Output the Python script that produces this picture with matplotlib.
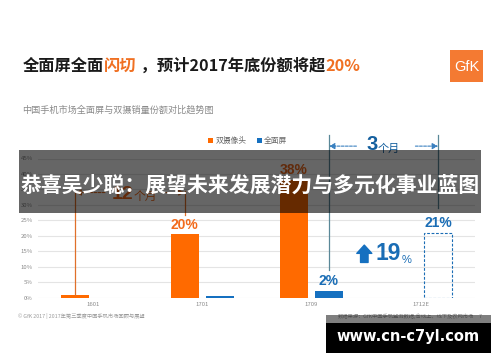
import numpy as np
import matplotlib.pyplot as plt
from matplotlib.patches import Rectangle

categories = ['1601', '1701', '1709', '1712E']
dual_camera = [0.8, 20.5, 38.0, 0.0]
full_screen = [0.0, 0.5, 2.2, 0.0]
full_screen_forecast = [np.nan, np.nan, np.nan, 21.0]
dual_labels = ['', '20%', '38%', '']
full_labels = ['', '', '2%', '21%']
yticks = [0, 5, 10, 15, 20, 25, 30, 35, 40, 45]

ORANGE = '#ff6a00'
ORANGE_TXT = '#f26b1d'
BLUE = '#1570c0'
BLUE_TXT = '#1a6db5'
DARK_BLUE = '#15609f'
GRAY = '#8a8a8a'

plt.rcParams['font.family'] = ['Noto Sans CJK SC', 'DejaVu Sans']
NUM_FONT = ['Liberation Sans', 'DejaVu Sans']

W, H = 500, 362


def fx(x):
    return x / W


def fy(y):
    return 1 - y / H


fig = plt.figure(figsize=(5, 3.62), dpi=100)
ax = fig.add_axes([38.3 / W, 1 - 297.7 / H, 437 / W, 139.2 / H])

x = np.arange(len(categories))
off, bw = 0.16, 0.256
ax.bar(x - off, dual_camera, bw, color=ORANGE, label='双摄像头', zorder=3)
ax.bar(x + off, full_screen, bw, color=BLUE, label='全面屏', zorder=3)
ax.bar(x + off, full_screen_forecast, bw, fill=False, edgecolor=BLUE_TXT,
       ls=(0, (2.5, 1.5)), lw=0.8, zorder=3)

full_tops = np.nan_to_num(full_screen_forecast) + np.array(full_screen)
for i in range(len(categories)):
    if dual_labels[i]:
        ax.annotate(dual_labels[i], (x[i] - off, dual_camera[i]), xytext=(0, 2),
                    textcoords='offset points', ha='center', va='bottom',
                    fontsize=10, fontweight='bold', color=ORANGE_TXT, family=NUM_FONT)
    if full_labels[i]:
        ax.annotate(full_labels[i], (x[i] + off, full_tops[i]), xytext=(0, 2),
                    textcoords='offset points', ha='center', va='bottom',
                    fontsize=10, fontweight='bold', color=BLUE_TXT, family=NUM_FONT)

ax.set_xlim(-0.5, 3.5)
ax.set_ylim(0, 45)
ax.set_xticks(x, categories)
ax.set_yticks(yticks, [f'{t}%' for t in yticks])
ax.tick_params(length=0, colors=GRAY, labelsize=4.3)
ax.tick_params(axis='y', pad=4)
ax.tick_params(axis='x', pad=3)
ax.grid(axis='y', color='#e4e4e4', lw=0.8)
ax.set_axisbelow(True)
for s in ax.spines.values():
    s.set_visible(False)

ax.legend(loc='center', bbox_to_anchor=(0.479, 1.126), ncol=2, frameon=False,
          fontsize=5.6, handlelength=0.7, handleheight=0.7, handletextpad=0.25,
          columnspacing=1.3, labelcolor='#666666')

# 12个月 bracket (orange)
y12 = 34.5
xl, xr = x[0] - off, x[1] - off
ax.plot([xl, xl], [dual_camera[0], y12], color='#e0702a', lw=0.9, zorder=4)
ax.plot([xr, xr], [26.8, y12], color='#e0702a', lw=0.9, zorder=4)
arrow_o = dict(arrowstyle='-|>,head_length=0.35,head_width=0.18', lw=0.8,
               ls=(0, (2.5, 1.2)), color='#e0702a', shrinkA=0, shrinkB=0)
ax.annotate('', xy=(xl, y12 - 0.5), xytext=(0.11, y12 - 0.5), arrowprops=arrow_o)
ax.annotate('', xy=(xr, y12 - 0.5), xytext=(0.63, y12 - 0.5), arrowprops=arrow_o)
t12 = ax.text(0.171, 33.5, '12', fontsize=14, fontweight='bold', color=ORANGE_TXT,
              ha='left', va='center', family=NUM_FONT)
ax.annotate('个月', xy=(1, 0), xycoords=t12, ha='left', va='bottom',
            fontsize=8.5, color=ORANGE_TXT)

# 3个月 bracket (blue)
y3 = 52.5
bl, br = x[2] + off, x[3] + off
ax.plot([bl, bl], [9, y3], color='#5a8898', lw=0.9, zorder=4, clip_on=False)
ax.plot([br, br], [29, y3], color='#5a8898', lw=0.9, zorder=4, clip_on=False)
arrow_b = dict(arrowstyle='-|>,head_length=0.35,head_width=0.18', lw=0.8,
               ls=(0, (2.5, 1.2)), color='#3a80c0', shrinkA=0, shrinkB=0)
ax.annotate('', xy=(bl, 49), xytext=(2.412, 49), arrowprops=arrow_b, annotation_clip=False)
ax.annotate('', xy=(br, 49), xytext=(2.952, 49), arrowprops=arrow_b, annotation_clip=False)
t3 = ax.text(2.505, 49.5, '3', fontsize=14.5, fontweight='bold', color=DARK_BLUE,
             ha='left', va='center', family=NUM_FONT, clip_on=False)
ax.annotate('个月', xy=(1, 0), xycoords=t3, ha='left', va='bottom',
            fontsize=8, color=DARK_BLUE, annotation_clip=False)

# growth marker
ax.annotate('', xy=(2.484, 17.0), xytext=(2.484, 11.4),
            arrowprops=dict(arrowstyle='simple,head_width=1.0,head_length=0.55,tail_width=0.5',
                            mutation_scale=10.8, color=BLUE, shrinkA=0, shrinkB=0))
t19 = ax.text(2.589, 14.4, '19', fontsize=16.5, fontweight='bold', color=BLUE_TXT,
              ha='left', va='center', family=NUM_FONT)
ax.annotate('%', xy=(1, 0), xycoords=t19, ha='left', va='bottom', fontsize=8,
            color=BLUE_TXT, family=NUM_FONT)

# title in pieces of different colour
pieces = [('全面屏全面', '#1a1a1a'), ('闪切', '#f07022'), (' ，预计2017年底份额将超', '#1a1a1a'),
          ('20%', '#f07022')]
t = fig.text(fx(23), fy(66), pieces[0][0], fontsize=11.7, fontweight='bold',
             color=pieces[0][1], ha='left', va='center')
for txt, col in pieces[1:]:
    t = ax.annotate(txt, xy=(1, 0), xycoords=t, ha='left', va='bottom', fontsize=11.7,
                    fontweight='bold', color=col, annotation_clip=False)

# GfK logo
fig.patches.append(Rectangle((fx(450), fy(82)), 33 / W, 32 / H, transform=fig.transFigure,
                             facecolor='#f47a32', edgecolor='none'))
fig.text(fx(466.5), fy(67), 'GfK', color='white', fontsize=10.5, ha='center', va='center',
         family=NUM_FONT)

fig.text(fx(22), fy(110), '中国手机市场全面屏与双摄销量份额对比趋势图', fontsize=6.6,
         color='#8a8a8a', ha='left', va='center')

# footer
fig.text(fx(18), fy(316), '© GfK 2017 | 2017年第三季度中国手机市场回顾与展望', fontsize=3.8,
         color='#9a9a9a', ha='left', va='center')
fig.text(fx(338), fy(316), '数据来源：GfK中国手机监测数据,含线上、线下及农网市场', fontsize=3.8,
         color='#9a9a9a', ha='left', va='center')
fig.text(fx(480), fy(316), '7', fontsize=3.8, color='#9a9a9a', ha='center', va='center')

# overlay banner
fig.patches.append(Rectangle((fx(19), fy(213)), 462 / W, 63 / H, transform=fig.transFigure,
                             facecolor='black', alpha=0.6, edgecolor='none', zorder=10))
fig.text(fx(250), fy(185), '恭喜吴少聪：展望未来发展潜力与多元化事业蓝图', fontsize=15,
         fontweight='bold', color='white', ha='center', va='center', zorder=11)

# watermark
fig.patches.append(Rectangle((fx(326), fy(323)), 165 / W, 8 / H, transform=fig.transFigure,
                             facecolor='black', alpha=0.5, edgecolor='none', zorder=10))
fig.patches.append(Rectangle((fx(326), fy(353)), 165 / W, 30 / H, transform=fig.transFigure,
                             facecolor='black', edgecolor='none', zorder=10))
fig.text(fx(408), fy(337), 'www.cn-c7yl.com', fontsize=10.5, fontweight='bold',
         color='white', ha='center', va='center', family=['DejaVu Sans'], zorder=11)

fig.savefig('out.png', dpi=100)
